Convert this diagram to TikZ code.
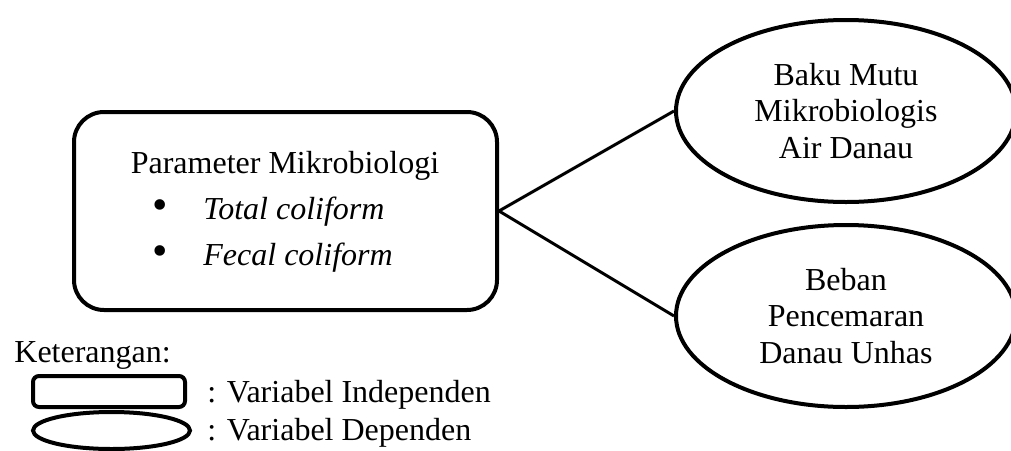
\documentclass[tikz,border=0pt]{standalone}
\usepackage{fontspec}
\setmainfont{Liberation Serif}
\usetikzlibrary{shapes.geometric}
\tikzset{
  varbox/.style={draw, line width=2pt, rounded corners=15pt, minimum width=211.5pt, minimum height=99pt},
  varell/.style={draw, ellipse, line width=2pt, minimum width=170pt, minimum height=91pt, align=center, inner sep=0pt, font=\fontsize{16}{18.3}\selectfont},
  link/.style={line width=1.5pt},
  txt/.style={font=\fontsize{16}{18.5}\selectfont, inner sep=0pt},
  dot/.style={font=\fontsize{22}{22}\selectfont, inner sep=0pt}
}
\begin{document}
\begin{tikzpicture}[x=0.5pt,y=-0.5pt]
	\useasboundingbox (0,0) rectangle (1011,450);
	% variabel independen
	\node[varbox] (pm) at (285.5,211) {};
	\node[txt, anchor=base] (judul) at (285,173) {Parameter Mikrobiologi};
	\node[dot] (bul1) at (160,210) {•};
	\node[txt, anchor=base west] (tc) at (203,219) {\textit{Total coliform}};
	\node[dot] (bul2) at (160,256) {•};
	\node[txt, anchor=base west] (fc) at (203,265) {\textit{Fecal coliform}};
	
	% variabel dependen
	\node[varell] (baku) at (846,111) {Baku Mutu\\Mikrobiologis\\Air Danau};
	\node[varell] (beban) at (846,316) {Beban\\Pencemaran\\Danau Unhas};
	
	\draw[link] (pm.east) -- (baku.west);
	\draw[link] (pm.east) -- (beban.west);
	
	% keterangan
	\node[txt, anchor=base west] (ket) at (14,362) {Keterangan:};
	\node[draw, line width=2pt, rounded corners=3pt, minimum width=76pt, minimum height=15.5pt, inner sep=0pt] (lbox) at (109,391.5) {};
	\node[draw, ellipse, line width=2pt, minimum width=78.5pt, minimum height=18.5pt, inner sep=0pt] (lell) at (111.5,430.5) {};
	\node[txt, anchor=base west] (lind) at (207,402) {: Variabel Independen};
	\node[txt, anchor=base west] (ldep) at (207,440) {: Variabel Dependen};
\end{tikzpicture}
\end{document}
